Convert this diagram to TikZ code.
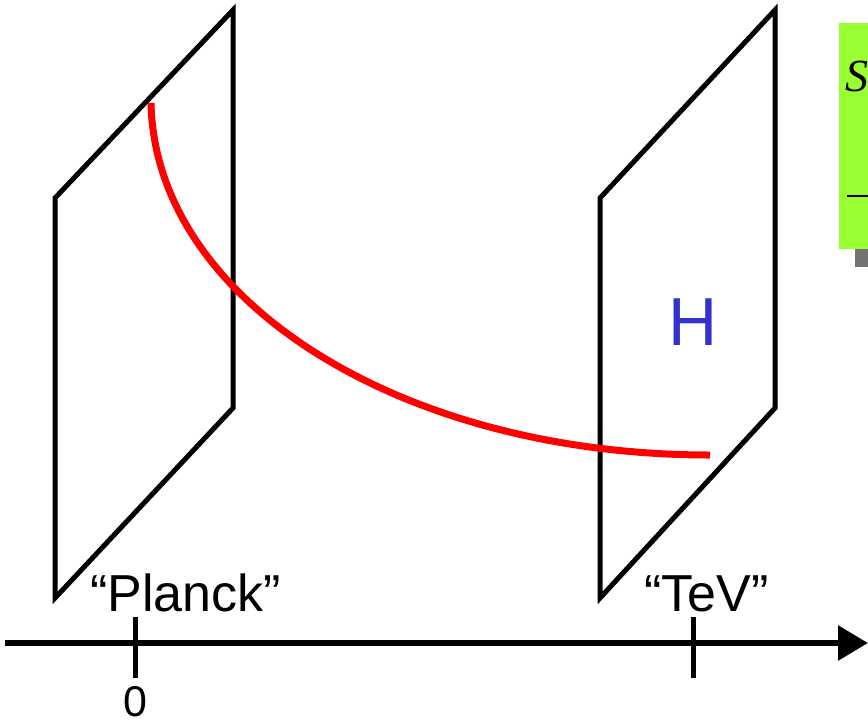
\documentclass[tikz,border=0pt]{standalone}
\usepackage{fontspec}
\setmainfont{Liberation Sans}
\newfontfamily\seriffont{Liberation Serif}
\usetikzlibrary{arrows.meta}
\definecolor{boxgreen}{RGB}{153,255,51}
\definecolor{hblue}{RGB}{51,51,204}
\begin{document}
\begin{tikzpicture}[x=1pt,y=-1pt,
  plane/.style={draw=black,line width=5pt,line join=miter},
  lbl/.style={inner sep=0pt,anchor=base west,font=\fontsize{52}{52}\selectfont},
  tick/.style={line width=5pt}]
\useasboundingbox (0,0) rectangle (868,724);
\clip (0,0) rectangle (868,724);
% planes
\draw[plane] (55,198) -- (233,10) -- (233,408) -- (55,598) -- cycle;
\draw[plane] (600,198) -- (775,10) -- (775,408) -- (600,598) -- cycle;
% H label
\node[inner sep=0pt,text=hblue,font=\fontsize{68}{68}\selectfont] (H) at (693,322) {H};
% red curve
\coordinate (c0) at (151,103);
\coordinate (c1) at (710,455);
\draw[red,line width=7pt] (c0) .. controls (155,300) and (400,455) .. (c1);
% axis
\coordinate (a0) at (5,643);
\coordinate (a1) at (868,643);
\draw[line width=6pt,-{Triangle[length=30pt,width=34pt]}] (a0) -- (a1);
\coordinate (t1a) at (135,617); \coordinate (t1b) at (135,678);
\coordinate (t2a) at (693,617); \coordinate (t2b) at (693,678);
\draw[tick] (t1a) -- (t1b);
\draw[tick] (t2a) -- (t2b);
% labels
\node[lbl] (planck) at (90,611) {“Planck”};
\node[lbl] (tev) at (644,611) {“TeV”};
\node[inner sep=0pt,anchor=base,font=\fontsize{43}{43}\selectfont] (zero) at (135,716) {0};
% green box with shadow
\fill[gray!90!black] (855,39) rectangle (890,267);
\fill[boxgreen] (839,23) rectangle (890,249);
\node[inner sep=0pt,anchor=base west,font=\seriffont\itshape\fontsize{46}{46}\selectfont] (S) at (845,91) {S};
\draw[line width=2pt] (847,196) -- (868,196);
\end{tikzpicture}
\end{document}
